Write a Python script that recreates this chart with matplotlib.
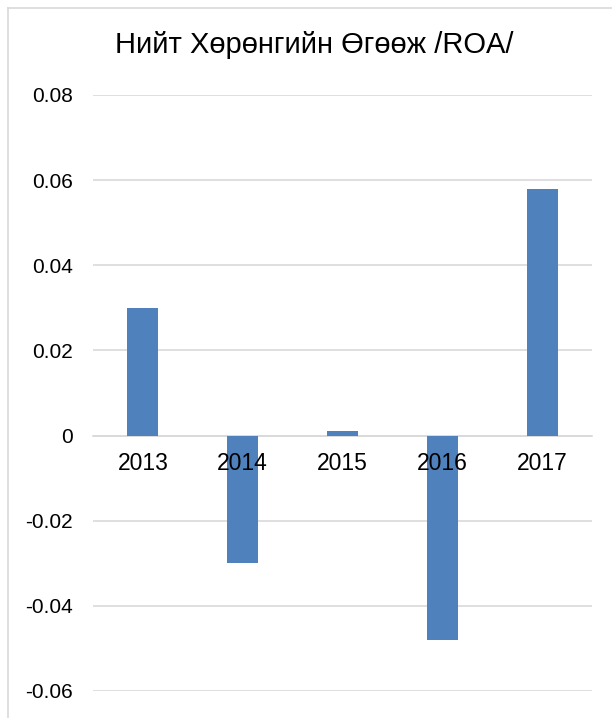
import numpy as np
import matplotlib.pyplot as plt
from matplotlib.lines import Line2D

plt.rcParams['font.family'] = ['Liberation Sans', 'DejaVu Sans']

# Data
years = ['2013', '2014', '2015', '2016', '2017']
roa = [0.030, -0.030, 0.001, -0.048, 0.058]
yticks = [-0.06, -0.04, -0.02, 0, 0.02, 0.04, 0.06, 0.08]
ytick_labels = ['-0.06', '-0.04', '-0.02', '0', '0.02', '0.04', '0.06', '0.08']

fig = plt.figure(figsize=(6.12, 7.18), dpi=100)
ax = fig.add_axes([93 / 612, 1 - 691 / 718, 499 / 612, (691 - 95) / 718])

x = np.arange(len(years))
ax.bar(x, roa, width=0.31, color='#4f81bd', zorder=3)

ax.set_xlim(-0.5, len(years) - 0.5)
ax.set_ylim(-0.06, 0.08)
ax.set_yticks(yticks)
ax.set_yticklabels(ytick_labels)
ax.grid(axis='y', color='#d9d9d9', linewidth=1.2, zorder=0)
ax.set_axisbelow(True)

for s in ['top', 'right', 'left']:
    ax.spines[s].set_visible(False)
ax.spines['bottom'].set_position(('data', 0))
ax.spines['bottom'].set_color('#d9d9d9')
ax.spines['bottom'].set_linewidth(1.2)

ax.set_xticks([])
ax.tick_params(axis='y', length=0, pad=14.5, labelsize=15)

# category labels sit on the zero line, drawn over the bars
for xi, yr in zip(x, years):
    ax.annotate(yr, (xi, 0), xytext=(0, -20), textcoords='offset points',
                ha='center', va='center', fontsize=16.5, zorder=5)

fig.text(314 / 612, 1 - 45 / 718, 'Нийт Хөрөнгийн Өгөөж /ROA/', ha='center', va='center', fontsize=21)

# chart border (only left and top visible in crop)
fig.add_artist(Line2D([8 / 612, 8 / 612], [0, 1 - 8 / 718], color='#d9d9d9', linewidth=1.2))
fig.add_artist(Line2D([8 / 612, 1], [1 - 8 / 718, 1 - 8 / 718], color='#d9d9d9', linewidth=1.2))

fig.savefig('out.png', dpi=100)
